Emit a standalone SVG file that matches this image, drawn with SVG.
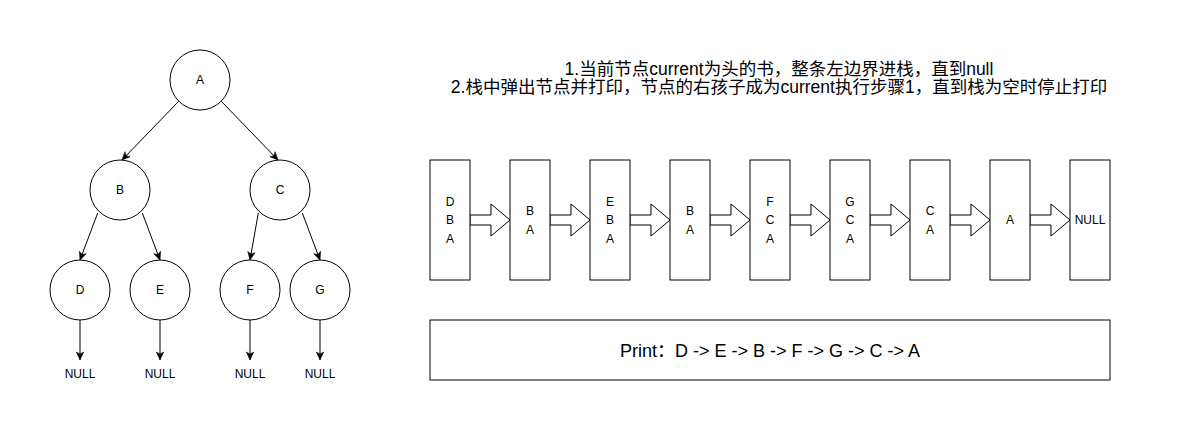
<svg xmlns="http://www.w3.org/2000/svg" width="1181" height="441" viewBox="0 0 1181 441">
<defs>
<style>
.c{fill:#fff;stroke:#000;stroke-width:1}
.b{fill:#fff;stroke:#000;stroke-width:1}
.e{fill:none;stroke:#000;stroke-width:1}
.ba{fill:#fff;stroke:#000;stroke-width:1;stroke-linejoin:miter}
.t{font-family:"Liberation Sans",Arial,Helvetica,sans-serif;font-size:12px;fill:#000;text-anchor:middle}
.h{font-family:"Liberation Sans","Noto Sans CJK SC",sans-serif;font-size:17.5px;fill:#000;text-anchor:middle}
.p{font-family:"Liberation Sans","Noto Sans CJK SC",sans-serif;font-size:18px;fill:#000;text-anchor:middle}
</style>
<marker id="arr" markerUnits="userSpaceOnUse" markerWidth="10" markerHeight="10" refX="9" refY="5" orient="auto" viewBox="0 0 10 10">
<path d="M1,1.3 L9,5 L1,8.7 L3,5 Z" fill="#000" stroke="#000" stroke-width="0.5"/>
</marker>
</defs>
<rect width="1181" height="441" fill="#fff"/>

<g id="connectors">
<line class="e" x1="178.8" y1="101.2" x2="122" y2="160" marker-end="url(#arr)"/>
<line class="e" x1="221.2" y1="101.2" x2="278" y2="160" marker-end="url(#arr)"/>
<line class="e" x1="97.7" y1="213" x2="80" y2="260" marker-end="url(#arr)"/>
<line class="e" x1="142.3" y1="213" x2="160" y2="260" marker-end="url(#arr)"/>
<line class="e" x1="258.3" y1="213" x2="250" y2="260" marker-end="url(#arr)"/>
<line class="e" x1="302.3" y1="213" x2="320" y2="260" marker-end="url(#arr)"/>
<line class="e" x1="80" y1="320" x2="80" y2="360" marker-end="url(#arr)"/>
<line class="e" x1="160" y1="320" x2="160" y2="360" marker-end="url(#arr)"/>
<line class="e" x1="250" y1="320" x2="250" y2="360" marker-end="url(#arr)"/>
<line class="e" x1="320" y1="320" x2="320" y2="360" marker-end="url(#arr)"/>
<polygon class="ba" points="470,215 491,215 491,204 510,220 491,236 491,225 470,225"/>
<polygon class="ba" points="550,215 571,215 571,204 590,220 571,236 571,225 550,225"/>
<polygon class="ba" points="630,215 651,215 651,204 670,220 651,236 651,225 630,225"/>
<polygon class="ba" points="710,215 731,215 731,204 750,220 731,236 731,225 710,225"/>
<polygon class="ba" points="790,215 811,215 811,204 830,220 811,236 811,225 790,225"/>
<polygon class="ba" points="870,215 891,215 891,204 910,220 891,236 891,225 870,225"/>
<polygon class="ba" points="950,215 971,215 971,204 990,220 971,236 971,225 950,225"/>
<polygon class="ba" points="1030,215 1051,215 1051,204 1070,220 1051,236 1051,225 1030,225"/>
</g>

<g id="nodeA"><circle class="c" cx="200" cy="80" r="30"/><text class="t" x="200" y="84">A</text></g>
<g id="nodeB"><circle class="c" cx="120" cy="190" r="30"/><text class="t" x="120" y="194">B</text></g>
<g id="nodeC"><circle class="c" cx="280" cy="190" r="30"/><text class="t" x="280" y="194">C</text></g>
<g id="nodeD"><circle class="c" cx="80" cy="290" r="30"/><text class="t" x="80" y="294">D</text></g>
<g id="nodeE"><circle class="c" cx="160" cy="290" r="30"/><text class="t" x="160" y="294">E</text></g>
<g id="nodeF"><circle class="c" cx="250" cy="290" r="30"/><text class="t" x="250" y="294">F</text></g>
<g id="nodeG"><circle class="c" cx="320" cy="290" r="30"/><text class="t" x="320" y="294">G</text></g>
<g id="null1"><text class="t" x="80" y="378">NULL</text></g>
<g id="null2"><text class="t" x="160" y="378">NULL</text></g>
<g id="null3"><text class="t" x="250" y="378">NULL</text></g>
<g id="null4"><text class="t" x="320" y="378">NULL</text></g>

<g id="title">
<text class="h" x="779" y="75">1.当前节点current为头的书，整条左边界进栈，直到null</text>
<text class="h" x="779" y="93">2.栈中弹出节点并打印，节点的右孩子成为current执行步骤1，直到栈为空时停止打印</text>
</g>

<g id="s1"><rect class="b" x="430" y="160" width="40" height="120"/><text class="t" x="450" y="206">D</text><text class="t" x="450" y="224">B</text><text class="t" x="450" y="243">A</text></g>
<g id="s2"><rect class="b" x="510" y="160" width="40" height="120"/><text class="t" x="530" y="215">B</text><text class="t" x="530" y="234">A</text></g>
<g id="s3"><rect class="b" x="590" y="160" width="40" height="120"/><text class="t" x="610" y="206">E</text><text class="t" x="610" y="224">B</text><text class="t" x="610" y="243">A</text></g>
<g id="s4"><rect class="b" x="670" y="160" width="40" height="120"/><text class="t" x="690" y="215">B</text><text class="t" x="690" y="234">A</text></g>
<g id="s5"><rect class="b" x="750" y="160" width="40" height="120"/><text class="t" x="770" y="206">F</text><text class="t" x="770" y="224">C</text><text class="t" x="770" y="243">A</text></g>
<g id="s6"><rect class="b" x="830" y="160" width="40" height="120"/><text class="t" x="850" y="206">G</text><text class="t" x="850" y="224">C</text><text class="t" x="850" y="243">A</text></g>
<g id="s7"><rect class="b" x="910" y="160" width="40" height="120"/><text class="t" x="930" y="215">C</text><text class="t" x="930" y="234">A</text></g>
<g id="s8"><rect class="b" x="990" y="160" width="40" height="120"/><text class="t" x="1010" y="224">A</text></g>
<g id="s9"><rect class="b" x="1070" y="160" width="40" height="120"/><text class="t" x="1090" y="224">NULL</text></g>

<g id="print"><rect class="b" x="430" y="320" width="680" height="60"/><text class="p" x="770" y="357">Print：D -&gt; E -&gt; B -&gt; F -&gt; G -&gt; C -&gt; A</text></g>
</svg>
